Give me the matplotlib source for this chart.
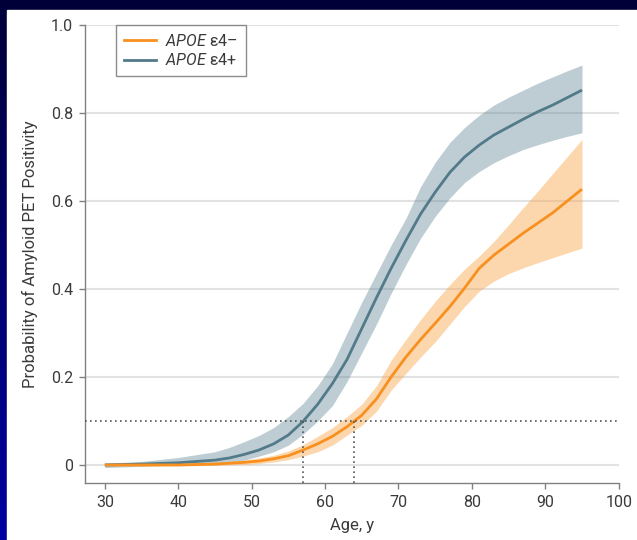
import matplotlib
matplotlib.use("Agg")
import matplotlib.pyplot as plt
import numpy as np
from matplotlib.colors import LinearSegmentedColormap
from matplotlib.patches import Rectangle
from matplotlib.lines import Line2D

plt.rcParams["font.family"] = ["Roboto", "DejaVu Sans"]
plt.rcParams["mathtext.fontset"] = "custom"
plt.rcParams["mathtext.it"] = "Roboto:italic"
plt.rcParams["mathtext.rm"] = "Roboto"

# Data
ages = [30, 35, 40, 45, 47, 49, 51, 53, 55, 57, 59, 61, 63, 65, 67, 69, 71, 73, 75, 77, 79,
        81, 83, 85, 87, 89, 91, 93, 95]

# APOE e4+ (carriers)
pos_mean = [0.0, 0.002, 0.005, 0.011, 0.016, 0.024, 0.034, 0.048, 0.068, 0.099, 0.138, 0.185,
            0.24, 0.31, 0.38, 0.447, 0.51, 0.57, 0.62, 0.665, 0.7, 0.727, 0.75, 0.768, 0.786,
            0.803, 0.818, 0.835, 0.852]
pos_low = [-0.006, -0.003, 0.0, 0.003, 0.005, 0.011, 0.02, 0.03, 0.045, 0.07, 0.1, 0.135, 0.19,
           0.255, 0.32, 0.39, 0.455, 0.515, 0.565, 0.607, 0.642, 0.667, 0.687, 0.703, 0.717,
           0.728, 0.738, 0.747, 0.755]
pos_high = [0.004, 0.008, 0.017, 0.03, 0.04, 0.053, 0.067, 0.085, 0.11, 0.14, 0.18, 0.23, 0.3,
            0.37, 0.435, 0.5, 0.56, 0.632, 0.688, 0.733, 0.767, 0.795, 0.818, 0.836, 0.852,
            0.868, 0.882, 0.896, 0.909]

# APOE e4- (non-carriers)
neg_mean = [0.0, 0.0, 0.0, 0.002, 0.004, 0.006, 0.009, 0.014, 0.021, 0.034, 0.048, 0.065, 0.087,
            0.113, 0.15, 0.2, 0.245, 0.285, 0.322, 0.36, 0.402, 0.447, 0.477, 0.502, 0.527,
            0.55, 0.573, 0.6, 0.627]
neg_low = [-0.002, -0.002, -0.002, -0.001, 0.0, 0.001, 0.003, 0.007, 0.012, 0.02, 0.03, 0.045,
           0.068, 0.09, 0.122, 0.17, 0.208, 0.245, 0.28, 0.32, 0.36, 0.395, 0.418, 0.435,
           0.448, 0.46, 0.471, 0.482, 0.493]
neg_high = [0.003, 0.003, 0.004, 0.006, 0.008, 0.011, 0.016, 0.022, 0.032, 0.046, 0.065, 0.085,
            0.11, 0.138, 0.18, 0.238, 0.285, 0.33, 0.372, 0.41, 0.445, 0.475, 0.508, 0.546,
            0.585, 0.623, 0.662, 0.701, 0.74]

threshold = 0.1
cross_ages = [57, 64]

yticks = [0, 0.2, 0.4, 0.6, 0.8, 1.0]
ytick_labels = ["0", "0.2", "0.4", "0.6", "0.8", "1.0"]
xticks = [30, 40, 50, 60, 70, 80, 90, 100]

blue = "#527a8a"
blue_band = "#547d8c"
orange = "#f7901e"
orange_band = "#f9a040"

fig = plt.figure(figsize=(6.37, 5.4), dpi=100)

# slide-style background
bg = fig.add_axes([0, 0, 1, 1], zorder=-10)
grad = np.linspace(0, 1, 256).reshape(-1, 1)
cmap = LinearSegmentedColormap.from_list("bg", ["#0000a2", "#000038"])
bg.imshow(grad, aspect="auto", cmap=cmap, extent=[0, 1, 0, 1], origin="lower")
bg.add_patch(Rectangle((7 / 637, 0), 1, 530 / 540, color="white", transform=bg.transAxes))
bg.set_xlim(0, 1)
bg.set_ylim(0, 1)
bg.axis("off")

ax = fig.add_axes([85 / 637, 57 / 540, (618.7 - 85) / 637, (483 - 25) / 540])
ax.set_facecolor("white")

ax.fill_between(ages, pos_low, pos_high, color=blue_band, alpha=0.38, lw=0, zorder=2)
ax.fill_between(ages, neg_low, neg_high, color=orange_band, alpha=0.42, lw=0, zorder=3)
ax.plot(ages, pos_mean, color=blue, lw=2, zorder=4, solid_capstyle="butt")
ax.plot(ages, neg_mean, color=orange, lw=2, zorder=5, solid_capstyle="butt")

ylo = -0.041
ax.axhline(threshold, color="#555555", lw=1.2, ls=(0, (1, 2)), zorder=6)
for a in cross_ages:
    ax.plot([a, a], [ylo, threshold], color="#555555", lw=1.2, ls=(0, (1, 2)), zorder=6)

ax.set_xlim(27.3, 100)
ax.set_ylim(ylo, 1.0)
ax.set_yticks(yticks)
ax.set_yticklabels(ytick_labels)
ax.set_xticks(xticks)
ax.yaxis.grid(True, color="#e2e2e2", lw=1.5, zorder=0)
ax.set_axisbelow(True)

for s in ["top", "right"]:
    ax.spines[s].set_visible(False)
for s in ["left", "bottom"]:
    ax.spines[s].set_color("#808080")
    ax.spines[s].set_linewidth(1.0)
ax.tick_params(axis="both", direction="out", length=4.5, width=1.0, color="#808080",
               labelsize=11.5, labelcolor="#3a3a3a", pad=4)

ax.set_xlabel("Age, y", fontsize=12, color="#3a3a3a", labelpad=6)
ax.set_ylabel("Probability of Amyloid PET Positivity", fontsize=12, color="#3a3a3a", labelpad=9)

handles = [Line2D([], [], color=orange, lw=2), Line2D([], [], color=blue, lw=2)]
labels = [r"$\it{APOE}$ ε4–", r"$\it{APOE}$ ε4+"]
leg = ax.legend(handles, labels, loc="upper left", bbox_to_anchor=(0.058, 1.0), fontsize=11.5,
                frameon=True, fancybox=False, edgecolor="#707070", handlelength=2.0,
                borderpad=0.5, labelspacing=0.2, handletextpad=0.6, borderaxespad=0)
leg.get_frame().set_linewidth(1.0)
for t in leg.get_texts():
    t.set_color("#3a3a3a")

fig.savefig("out.png", dpi=100)
